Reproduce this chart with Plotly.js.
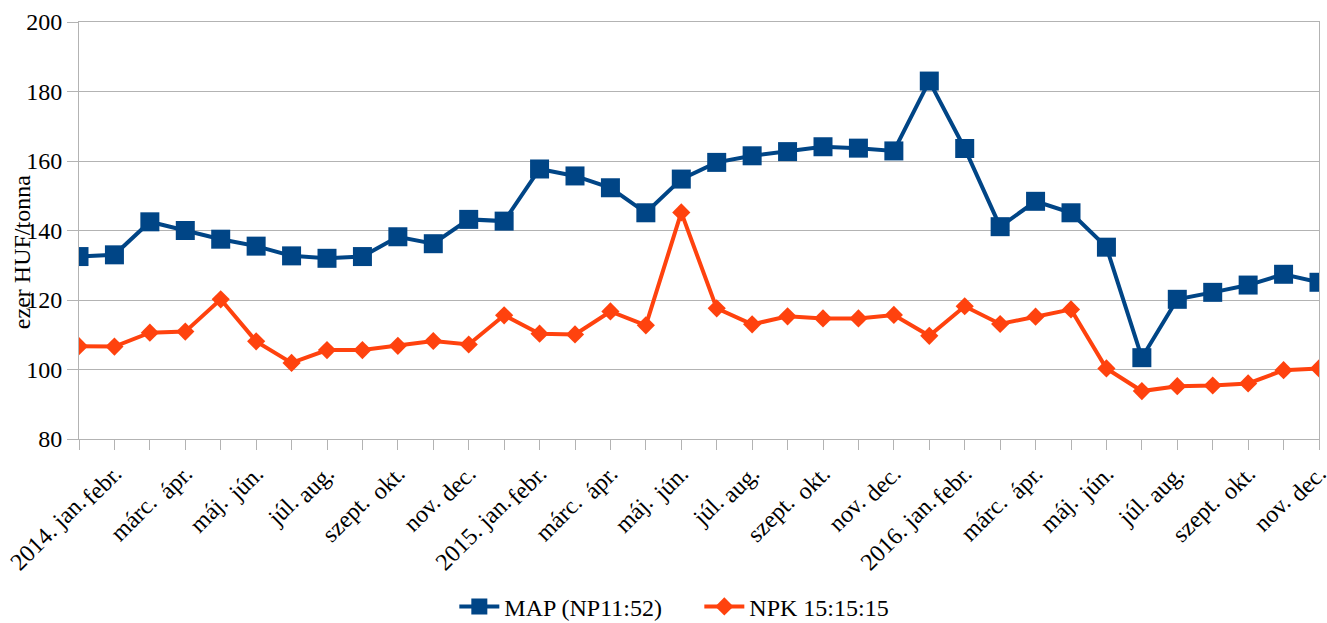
<!DOCTYPE html>
<html>
<head>
<meta charset="utf-8">
<script src="https://cdn.plot.ly/plotly-3.0.1.min.js"></script>
<style>html,body{margin:0;padding:0;background:#fff;}#chart{width:1327px;height:623px;}</style>
</head>
<body>
<div id="chart"></div>
<script>
// Period keys (unique) and their displayed tick labels
const periods = [
  '2014-01','2014-02','2014-03','2014-04','2014-05','2014-06','2014-07','2014-08','2014-09','2014-10','2014-11','2014-12',
  '2015-01','2015-02','2015-03','2015-04','2015-05','2015-06','2015-07','2015-08','2015-09','2015-10','2015-11','2015-12',
  '2016-01','2016-02','2016-03','2016-04','2016-05','2016-06','2016-07','2016-08','2016-09','2016-10','2016-11','2016-12'
];
const tickLabels = [
  '2014. jan.','febr.','márc.','ápr.','máj.','jún.','júl.','aug.','szept.','okt.','nov.','dec.',
  '2015. jan.','febr.','márc.','ápr.','máj.','jún.','júl.','aug.','szept.','okt.','nov.','dec.',
  '2016. jan.','febr.','márc.','ápr.','máj.','jún.','júl.','aug.','szept.','okt.','nov.','dec.'
];
const seriesNames = ['MAP (NP11:52)', 'NPK 15:15:15'];
const mapValues = [132.5, 133, 142.5, 140, 137.5, 135.5, 132.7, 132, 132.5, 138.2, 136.2, 143.2,
  142.7, 157.7, 155.7, 152.3, 145.1, 154.8, 159.6, 161.5, 162.7, 164.1, 163.7, 162.9,
  183, 163.6, 141.1, 148.4, 145.1, 135.2, 103.4, 120.2, 122.2, 124.3, 127.4, 125.1];
const npkValues = [106.7, 106.6, 110.6, 110.9, 120.2, 108.1, 101.9, 105.6, 105.6, 106.8, 108.2, 107.2,
  115.6, 110.3, 110.1, 116.7, 112.7, 145.2, 117.6, 113, 115.3, 114.7, 114.7, 115.7,
  109.7, 118.2, 113.1, 115.2, 117.3, 100.3, 93.8, 95.2, 95.4, 96, 99.8, 100.3];
const yTitle = 'ezer HUF/tonna';

const evenVals = periods.filter((p, i) => i % 2 === 0);
const evenText = tickLabels.filter((p, i) => i % 2 === 0);
const oddVals = periods.filter((p, i) => i % 2 === 1);
const oddText = tickLabels.filter((p, i) => i % 2 === 1);

const FONT = 'Liberation Serif';
const GRID = '#b3b3b3';

const traces = [
  {
    x: periods, y: mapValues, name: seriesNames[0], type: 'scatter', mode: 'lines+markers',
    line: {color: '#004586', width: 4},
    marker: {symbol: 'square', size: 19, color: '#004586'}
  },
  {
    x: periods, y: npkValues, name: seriesNames[1], type: 'scatter', mode: 'lines+markers',
    line: {color: '#ff420e', width: 4},
    marker: {symbol: 'diamond', size: 14, color: '#ff420e'}
  },
  {
    x: periods, y: npkValues, xaxis: 'x2', type: 'scatter', mode: 'lines',
    line: {width: 0, color: 'rgba(0,0,0,0)'}, showlegend: false, hoverinfo: 'skip'
  }
];

const xCommon = {
  type: 'category',
  categoryorder: 'array',
  categoryarray: periods,
  range: [0, periods.length - 1],
  automargin: false,
  showgrid: false,
  zeroline: false,
  ticks: 'outside',
  ticklen: 10,
  tickcolor: GRID,
  tickwidth: 1,
  tickangle: -45,
  tickfont: {family: FONT, size: 24, color: '#000'}
};

const layout = {
  width: 1327, height: 623,
  margin: {l: 79, r: 8, t: 22, b: 184, autoexpand: false},
  paper_bgcolor: '#fff', plot_bgcolor: '#fff',
  font: {family: FONT, size: 24, color: '#000'},
  showlegend: true,
  legend: {
    orientation: 'h', xref: 'container', yref: 'container',
    x: 0.527, xanchor: 'center', y: 0.026, yanchor: 'middle',
    entrywidth: 190,
    font: {family: FONT, size: 24, color: '#000'}, itemwidth: 40
  },
  xaxis: Object.assign({}, xCommon, {
    tickvals: evenVals, ticktext: evenText,
    ticklabelstandoff: 29,
    showline: true, linecolor: GRID, linewidth: 1, mirror: true
  }),
  xaxis2: Object.assign({}, xCommon, {
    overlaying: 'x', side: 'bottom', matches: 'x',
    tickvals: oddVals, ticktext: oddText,
    ticklabelstandoff: 0,
    showline: false
  }),
  yaxis: {
    range: [80, 200], dtick: 20, tick0: 80,
    automargin: false,
    showgrid: true, gridcolor: GRID, gridwidth: 1,
    zeroline: false,
    showline: true, linecolor: GRID, linewidth: 1, mirror: true,
    ticks: 'outside', ticklen: 11, tickcolor: GRID,
    ticklabelstandoff: 0,
    tickfont: {family: FONT, size: 24, color: '#000'}
  },
  annotations: [{
    text: yTitle, xref: 'paper', yref: 'paper', x: -0.046, y: 0.448,
    xanchor: 'center', yanchor: 'middle', textangle: -90, showarrow: false,
    font: {family: FONT, size: 24, color: '#000'}
  }]
};

Plotly.newPlot('chart', traces, layout, {displayModeBar: false, staticPlot: true});
</script>
</body>
</html>
